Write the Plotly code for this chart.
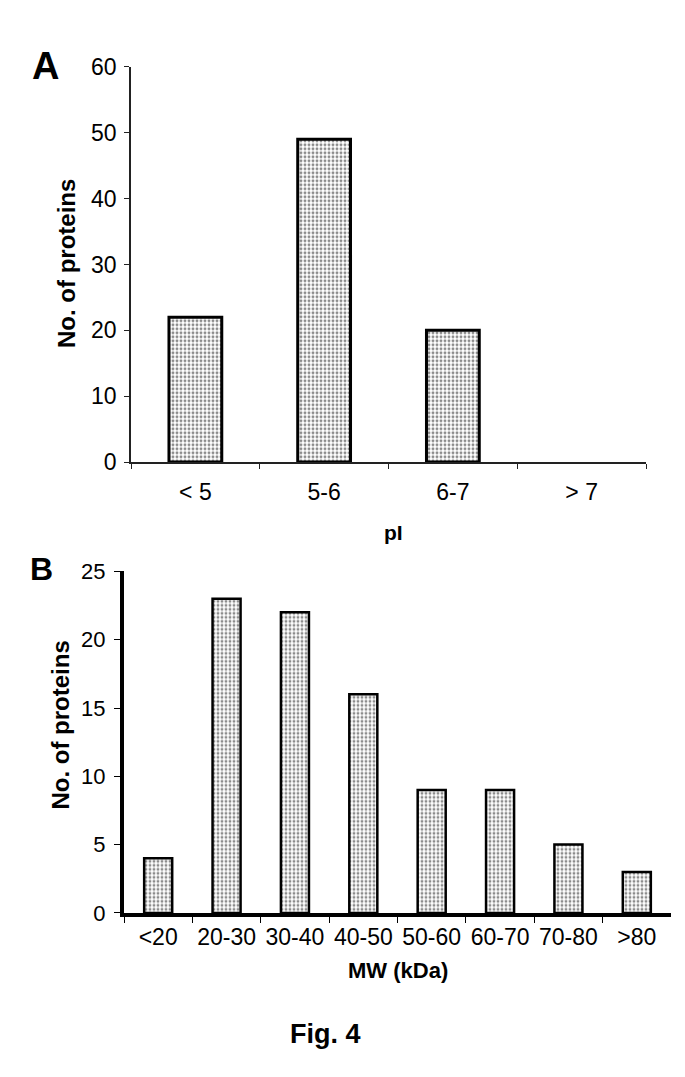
import plotly.graph_objects as go

# ---- data ----
pi_categories = ["< 5", "5-6", "6-7", "> 7"]
pi_counts = [22, 49, 20, 0]

mw_categories = ["<20", "20-30", "30-40", "40-50", "50-60", "60-70", "70-80", ">80"]
mw_counts = [4, 23, 22, 16, 9, 9, 5, 3]

pi_ticks = [0, 10, 20, 30, 40, 50, 60]
mw_ticks = [0, 5, 10, 15, 20, 25]

W, H = 685, 1077
FONT = "Liberation Sans, Arial, sans-serif"

def px_x(x):
    return x / W

def px_y(y):
    return 1 - y / H

pattern = dict(shape=".", fgcolor="#1a1a1a", bgcolor="white", size=4, solidity=0.42)

fig = go.Figure()

fig.add_trace(go.Bar(
    x=pi_categories, y=pi_counts, xaxis="x", yaxis="y",
    marker=dict(color="white", pattern=pattern,
                line=dict(color="black", width=[3 if v > 0 else 0 for v in pi_counts])),
    width=0.41, showlegend=False, hoverinfo="x+y",
))

fig.add_trace(go.Bar(
    x=mw_categories, y=mw_counts, xaxis="x2", yaxis="y2",
    marker=dict(color="white", pattern=pattern,
                line=dict(color="black", width=2.5)),
    width=0.41, showlegend=False, hoverinfo="x+y",
))

axis_font_a = dict(family=FONT, size=23, color="black")
axis_font_b = dict(family=FONT, size=23, color="black")

fig.update_layout(
    width=W, height=H,
    margin=dict(l=0, r=0, t=0, b=0),
    paper_bgcolor="white", plot_bgcolor="white",
    font=dict(family=FONT, color="black"),
    xaxis=dict(
        domain=[px_x(123), px_x(638)], anchor="y",
        type="category", range=[-0.5, 3.5],
        showline=True, linecolor="#222", linewidth=1.5,
        ticks="outside", tickson="boundaries", ticklen=5, tickwidth=1, tickcolor="#222",
        tickfont=axis_font_a, ticklabelstandoff=9,
        showgrid=False, zeroline=False,
    ),
    yaxis=dict(
        domain=[px_y(452), px_y(47)], anchor="x",
        range=[0, 60], tickvals=pi_ticks,
        showline=True, linecolor="#222", linewidth=1.5,
        ticks="outside", ticklen=5, tickwidth=1, tickcolor="#222",
        tickfont=axis_font_a, ticklabelstandoff=3,
        showgrid=False, zeroline=False,
    ),
    xaxis2=dict(
        domain=[px_x(116), px_x(663)], anchor="y2",
        type="category", range=[-0.5, 7.5],
        showline=True, linecolor="black", linewidth=4,
        ticks="outside", tickson="boundaries", ticklen=6, tickwidth=1, tickcolor="black",
        tickfont=axis_font_b, ticklabelstandoff=0,
        showgrid=False, zeroline=False,
    ),
    yaxis2=dict(
        domain=[px_y(914), px_y(564)], anchor="x2",
        range=[0, 25], tickvals=mw_ticks,
        showline=True, linecolor="black", linewidth=4,
        ticks="outside", ticklen=6, tickwidth=1, tickcolor="black",
        tickfont=dict(family=FONT, size=22, color="black"), ticklabelstandoff=4,
        showgrid=False, zeroline=False,
    ),
)

def note(text, x, y, size, angle=0):
    fig.add_annotation(
        text=text, x=px_x(x), y=px_y(y), xref="paper", yref="paper",
        showarrow=False, textangle=angle, xanchor="center", yanchor="middle",
        font=dict(family=FONT, size=size, color="black"),
    )

note("<b>A</b>", 37, 46, 38)
note("<b>B</b>", 33, 562, 32)
note("<b>No. of proteins</b>", 59, 249, 24, angle=-90)
note("<b>No. of proteins</b>", 53, 722, 24, angle=-90)
note("<b>pI</b>", 385, 524, 21)
note("<b>MW (kDa)</b>", 390, 973, 22)
note("<b>Fig. 4</b>", 317, 1038, 27)

fig.write_html("out.html")
